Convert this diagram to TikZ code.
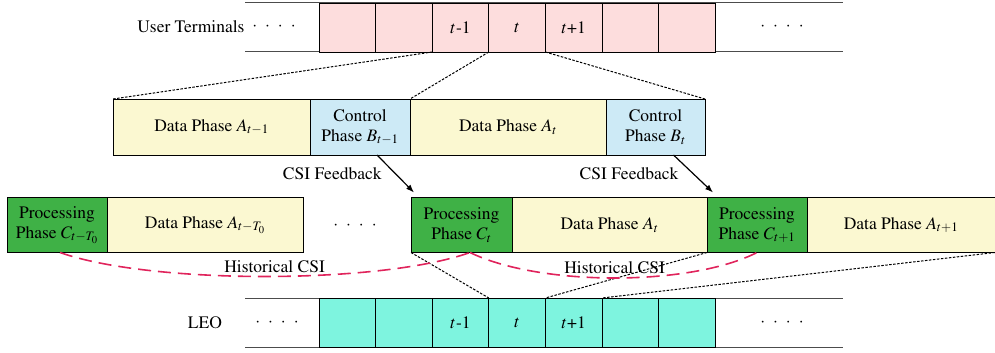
\documentclass[tikz,border=0pt]{standalone}
\usepackage[T1]{fontenc}
\usepackage{mathptmx}
\usepackage{tikz}
\usetikzlibrary{shapes, arrows.meta, positioning}
\definecolor{slotpink}{HTML}{FDDDDD}
\definecolor{slotcyan}{HTML}{7EF4DF}
\definecolor{datayellow}{HTML}{FBF8D1}
\definecolor{ctrlblue}{HTML}{CDEAF6}
\definecolor{procgreen}{HTML}{3FB146}
\definecolor{histred}{HTML}{E0245C}
\tikzstyle{slot} = [draw, rectangle, line width=0.9pt, minimum width=56.6pt, minimum height=49pt, inner sep=0pt, outer sep=0pt]
\tikzstyle{phase} = [draw, rectangle, line width=0.9pt, minimum height=55pt, inner sep=0pt, outer sep=0pt, align=center]
\tikzstyle{rowline} = [draw=black!70, line width=1pt]
\tikzstyle{zoomline} = [line width=1pt, dash pattern=on 2.5pt off 1.5pt]
\tikzstyle{hist} = [draw=histred, line width=1.6pt, dash pattern=on 13pt off 7pt]
\newcommand{\fourdots}{{\cdot}\hspace{8pt}{\cdot}\hspace{8pt}{\cdot}\hspace{8pt}{\cdot}}

\begin{document}
\begin{tikzpicture}[auto,>={Latex[length=8pt,width=6pt]},x=1pt,y=-1pt,font=\rmfamily\fontsize{17.5}{20}\selectfont]
    \useasboundingbox (0,0) rectangle (995,353);
    % user terminal frames
    \node [anchor=east] (ut) at (248,27) {User Terminals};
    \node (utdotsl) at (274,27) {$\fourdots$};
    \draw [rowline] (245,3) -- (843,3);
    \draw [rowline] (245,52) -- (843,52);
    \node [slot, fill=slotpink] (u1) at (347.3,27.5) {};
    \node [slot, fill=slotpink, right=0pt of u1] (u2) {};
    \node [slot, fill=slotpink, right=0pt of u2] (u3) {$t$-1};
    \node [slot, fill=slotpink, right=0pt of u3] (u4) {$t$};
    \node [slot, fill=slotpink, right=0pt of u4] (u5) {$t$+1};
    \node [slot, fill=slotpink, right=0pt of u5] (u6) {};
    \node [slot, fill=slotpink, right=0pt of u6] (u7) {};
    \node (utdotsr) at (782,27) {$\fourdots$};

    % one frame at the terminals
    \node [phase, fill=datayellow, minimum width=197pt, minimum height=56pt] (A1) at (211.5,127) {Data Phase $A_{t-1}$};
    \node [phase, fill=ctrlblue, minimum width=100pt, minimum height=56pt, right=0pt of A1] (B1) {Control\\Phase $B_{t-1}$};
    \node [phase, fill=datayellow, minimum width=196pt, minimum height=56pt, right=0pt of B1] (A2) {Data Phase $A_t$};
    \node [phase, fill=ctrlblue, minimum width=99pt, minimum height=56pt, right=0pt of A2] (B2) {Control\\Phase $B_t$};
    \draw [zoomline] (u3.south west) -- (A1.north west);
    \draw [zoomline] (u4.south west) -- (B1.north east);
    \draw [zoomline] (u5.south west) -- (B2.north east);

    % frames at the satellite
    \node [phase, fill=procgreen, minimum width=100pt] (C0) at (57,225) {Processing\\Phase $C_{t-T_0}$};
    \node [phase, fill=datayellow, minimum width=196pt, right=0pt of C0] (A0) {Data Phase $A_{t-T_0}$};
    \node (middots) at (355,226) {$\fourdots$};
    \node [phase, fill=procgreen, minimum width=101pt] (C1) at (461.5,225) {Processing\\Phase $C_t$};
    \node [phase, fill=datayellow, minimum width=195pt, right=0pt of C1] (A3) {Data Phase $A_t$};
    \node [phase, fill=procgreen, minimum width=100pt, right=0pt of A3] (C2) {Processing\\Phase $C_{t+1}$};
    \node [phase, draw=none, fill=datayellow, minimum width=188pt, right=0pt of C2] (A4) {Data Phase $A_{t+1}$};
    \draw [line width=0.9pt] (A4.north east) -- (A4.north west) -- (A4.south west) -- (A4.south east);

    \draw [->, line width=1.2pt] ([xshift=17pt]B1.south) -- node [left=10pt] {CSI Feedback} ([shift={(3pt,5pt)}]C1.north west);
    \draw [->, line width=1.2pt] ([xshift=18pt]B2.south) -- node [left=11pt] {CSI Feedback} ([shift={(6pt,5pt)}]C2.north west);

    % LEO frames
    \node (leo) at (205,323) {LEO};
    \node (leodotsl) at (277,323) {$\fourdots$};
    \draw [rowline] (245,298) -- (843,298);
    \draw [rowline] (245,347) -- (843,347);
    \node [slot, fill=slotcyan] (l1) at (347.3,322.5) {};
    \node [slot, fill=slotcyan, right=0pt of l1] (l2) {};
    \node [slot, fill=slotcyan, right=0pt of l2] (l3) {$t$-1};
    \node [slot, fill=slotcyan, right=0pt of l3] (l4) {$t$};
    \node [slot, fill=slotcyan, right=0pt of l4] (l5) {$t$+1};
    \node [slot, fill=slotcyan, right=0pt of l5] (l6) {};
    \node [slot, fill=slotcyan, right=0pt of l6] (l7) {};
    \node (leodotsr) at (782,323) {$\fourdots$};
    \draw [zoomline] (C1.south west) -- (l4.north west);
    \draw [zoomline] (A3.south east) -- (l5.north west);
    \draw [zoomline] (A4.south east) -- (l6.north west);

    % historical CSI
    \draw [hist] ([xshift=3pt]C0.south) .. controls +(90,32) and +(-90,32) .. node [above, pos=0.52] {Historical CSI} ([xshift=8.5pt]C1.south);
    \draw [hist] ([xshift=8.5pt]C1.south) .. controls +(70,34) and +(-67,34) .. node [above, pos=0.5] {Historical CSI} ([xshift=0pt]C2.south);
\end{tikzpicture}
\end{document}
